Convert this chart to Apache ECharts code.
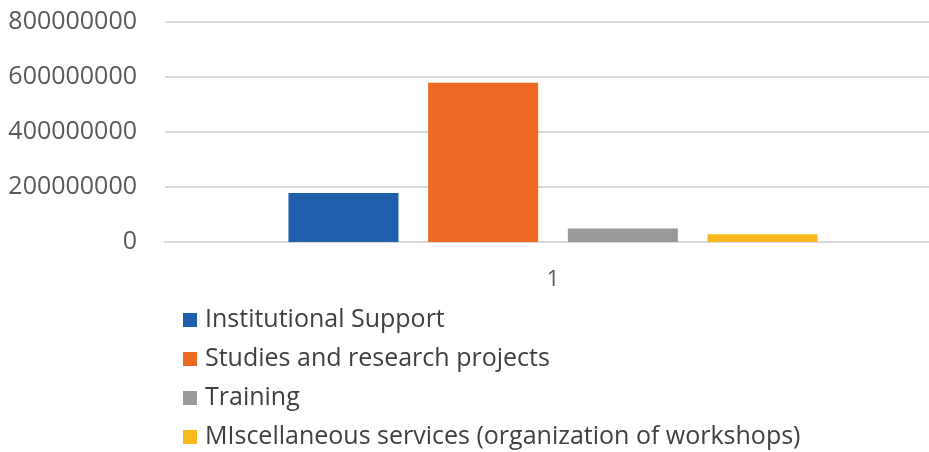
<!DOCTYPE html>
<html>
<head>
<meta charset="utf-8">
<script src="https://cdn.jsdelivr.net/npm/echarts@6/dist/echarts.min.js"></script>
<style>
  html, body { margin: 0; padding: 0; background: #fff; }
  #chart { width: 929px; height: 452px; }
</style>
</head>
<body>
<div id="chart"></div>
<script>
const categories = ["1"]
const seriesNames = [
  "Institutional Support",
  "Studies and research projects",
  "Training",
  "MIscellaneous services (organization of workshops)",
]
const seriesValues = [
  [178000000],
  [579000000],
  [49000000],
  [28000000],
]
const yTicks = [0, 200000000, 400000000, 600000000, 800000000]

const colors = ["#1f5fad", "#ee6a22", "#999999", "#f9b81b"]
const font = "Open Sans"

const chart = echarts.init(document.getElementById("chart"), undefined, {
  renderer: "canvas",
})

chart.setOption({
  backgroundColor: "#fff",
  animation: false,
  color: colors,
  grid: {
    left: 165,
    width: 776,
    top: 22,
    bottom: 210,
    outerBoundsMode: "none",
  },
  legend: {
    orient: "vertical",
    left: 183,
    top: 307,
    padding: 0,
    itemWidth: 14,
    itemHeight: 14,
    itemGap: 13,
    icon: "rect",
    textStyle: {
      fontFamily: font,
      fontSize: 25,
      lineHeight: 26,
      color: "#404040",
      padding: [0, 0, 0, 3],
    },
    data: seriesNames,
  },
  xAxis: {
    type: "category",
    data: categories,
    axisLine: { lineStyle: { color: "#d9d9d9", width: 2 } },
    axisTick: { show: false },
    axisLabel: {
      fontFamily: font,
      fontSize: 22,
      color: "#595959",
      margin: 27,
    },
  },
  yAxis: {
    type: "value",
    min: yTicks[0],
    max: yTicks[yTicks.length - 1],
    interval: yTicks[1] - yTicks[0],
    axisLine: { show: false },
    axisTick: { show: false },
    axisLabel: {
      fontFamily: font,
      fontSize: 25,
      color: "#595959",
      margin: 28,
      formatter: (v) => String(v),
    },
    splitLine: { lineStyle: { color: "#d9d9d9", width: 2 } },
  },
  series: seriesNames.map((name, i) => ({
    name,
    type: "bar",
    barWidth: 110,
    barGap: "27%",
    data: seriesValues[i],
  })),
})
</script>
</body>
</html>
